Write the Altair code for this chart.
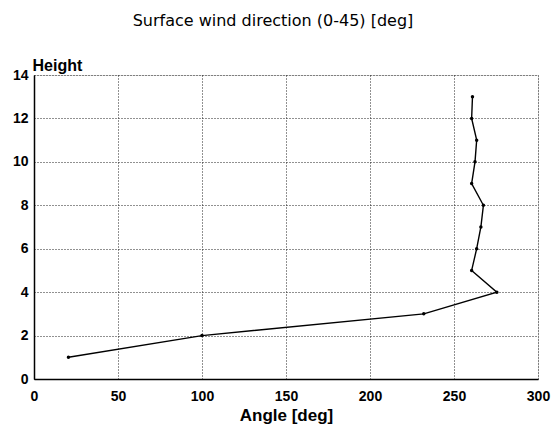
import altair as alt
import pandas as pd

angle = [20.5, 100, 232, 275.5, 260.5, 263.5, 266, 267.5, 260.5, 262.5, 263.5, 260.5, 261]
height = [1, 2, 3, 4, 5, 6, 7, 8, 9, 10, 11, 12, 13]

df = pd.DataFrame({"angle": angle, "height": height, "order": list(range(len(angle)))})

x = alt.X("angle:Q", scale=alt.Scale(domain=[0, 300], nice=False, zero=False),
          axis=alt.Axis(title="Angle [deg]", values=[0, 50, 100, 150, 200, 250, 300],
                        labelFont="Liberation Sans", labelFontSize=14, labelFontWeight="bold",
                        labelColor="black", labelPadding=10, ticks=False, labelFlush=False,
                        titleFont="Liberation Sans", titleFontSize=17, titleFontWeight="bold",
                        titleColor="black", titlePadding=4,
                        domainColor="black", domainWidth=1.5,
                        grid=True, gridColor="#222", gridDash=[1, 2], gridWidth=1))
y = alt.Y("height:Q", scale=alt.Scale(domain=[0, 14], nice=False, zero=False),
          axis=alt.Axis(title="Height", values=[0, 2, 4, 6, 8, 10, 12, 14],
                        labelFont="Liberation Sans", labelFontSize=14, labelFontWeight="bold",
                        labelColor="black", labelPadding=6, ticks=False, labelFlush=False,
                        titleFont="Liberation Sans", titleFontSize=16, titleFontWeight="bold",
                        titleColor="black", titleAngle=0, titleAlign="left",
                        titleBaseline="alphabetic", titleX=-2, titleY=-5,
                        domainColor="black", domainWidth=1.5,
                        grid=True, gridColor="#222", gridDash=[1, 2], gridWidth=1))

line = alt.Chart(df).mark_line(color="black", strokeWidth=1.4).encode(x=x, y=y, order="order:Q")
pts = alt.Chart(df).mark_point(color="black", filled=True, size=12, opacity=1).encode(x=x, y=y)

chart = (line + pts).properties(
    width=504, height=304,
    padding={"left": 34, "top": 75, "right": 15, "bottom": 47},
    autosize=alt.AutoSizeParams(type="none"),
    title=alt.TitleParams("Surface wind direction (0-45) [deg]", font="DejaVu Sans",
                          fontSize=16, fontWeight="normal", color="black",
                          anchor="middle", frame="group", offset=28, dx=-13),
).configure_view(stroke="black", strokeWidth=1.5).configure(background="white")

chart.save("out.html", embed_options={"renderer": "svg", "actions": False})
